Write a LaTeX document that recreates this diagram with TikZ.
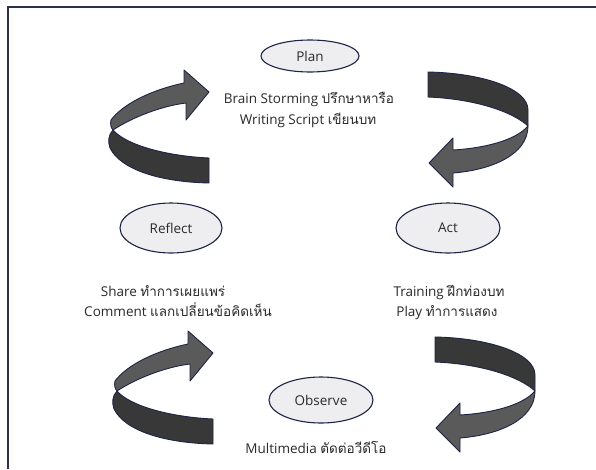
\documentclass[tikz,border=0pt]{standalone}
\usepackage{fontspec}
\setmainfont{Open Sans}
\newfontfamily\thai[Script=Thai]{Loma}
\usetikzlibrary{shapes.geometric}
\definecolor{navy}{HTML}{1C2545}
\definecolor{framec}{HTML}{2A3248}
\definecolor{ellfill}{HTML}{EEEEF0}
\definecolor{txt}{HTML}{2A2A2A}
\definecolor{darkband}{HTML}{383838}
\definecolor{lightband}{HTML}{5A5A5A}
\begin{document}
\begin{tikzpicture}[x=1pt,y=-1pt,
  every node/.style={font=\fontsize{13.5}{16}\selectfont, text=txt},
  phase/.style={ellipse, draw=navy, fill=ellfill, line width=1.1pt, inner sep=0pt},
  lbl/.style={inner sep=0pt, text height=10pt, text depth=3pt},
  back/.style={fill=darkband, draw=navy, line width=0.9pt, line join=round},
  front/.style={fill=lightband, draw=navy, line width=0.9pt, line join=round},
  frame/.style={draw=framec, line width=1.4pt},
  leftarrow/.pic={
    \draw[back] (0,66) .. controls (-43,64) and (-83,53) .. (-96,38)
      .. controls (-101,43) and (-101,50) .. (-99,56)
      .. controls (-88,78) and (-48,90) .. (0,91) -- cycle;
    \draw[front] (-96,38) .. controls (-78,26) and (-48,14) .. (-23,11)
      -- (-23,28) -- (0,0) -- (-25,-22) -- (-25,-9)
      .. controls (-58,-2) and (-86,12) .. (-98,28)
      .. controls (-99,32) and (-98,36) .. (-96,38) -- cycle;
  },
  rightarrow/.pic={
    \draw[back] (-1,-91) .. controls (52,-90) and (99,-75) .. (99,-53)
      -- (99,-37) .. controls (84,-51) and (47,-64) .. (-1,-66) -- cycle;
    \draw[front] (99,-37) .. controls (99,-8) and (62,7) .. (24,10)
      -- (24,24) -- (0,0) -- (24,-25) -- (24,-13)
      .. controls (57,-15) and (87,-23) .. (99,-37) -- cycle;
  }]
\useasboundingbox (0,0) rectangle (596,469);
\fill[white] (0,0) rectangle (596,469);
\draw[frame] (8,469) -- (8,7) -- (596,7);

% cycle arrows
\pic at (209,92) {leftarrow};
\pic at (429,163) {rightarrow};
\pic at (213,353) {leftarrow};
\pic at (436,428) {rightarrow};

% phases
\node[phase, minimum width=98pt, minimum height=32pt] (plan) at (310,56) {Plan};
\node[phase, minimum width=102pt, minimum height=50pt] (reflect) at (171,228) {Reflect};
\node[phase, minimum width=104pt, minimum height=50pt] (act) at (448,228) {Act};
\node[phase, minimum width=104pt, minimum height=46pt] (observe) at (321,400) {Observe};

% descriptions
\node[lbl] (plan1) at (309,100) {Brain Storming {\thai ปรึกษาหารือ}};
\node[lbl] (plan2) at (308,121) {Writing Script {\thai เขียนบท}};
\node[lbl] (ref1) at (163,293) {Share {\thai ทำการเผยแพร่}};
\node[lbl] (ref2) at (178,313) {Comment {\thai แลกเปลี่ยนข้อคิดเห็น}};
\node[lbl] (act1) at (449,293) {Training {\thai ฝึกท่องบท}};
\node[lbl] (act2) at (447,313) {Play {\thai ทำการแสดง}};
\node[lbl] (obs1) at (316,450) {Multimedia {\thai ตัดต่อวีดีโอ}};
\end{tikzpicture}
\end{document}
